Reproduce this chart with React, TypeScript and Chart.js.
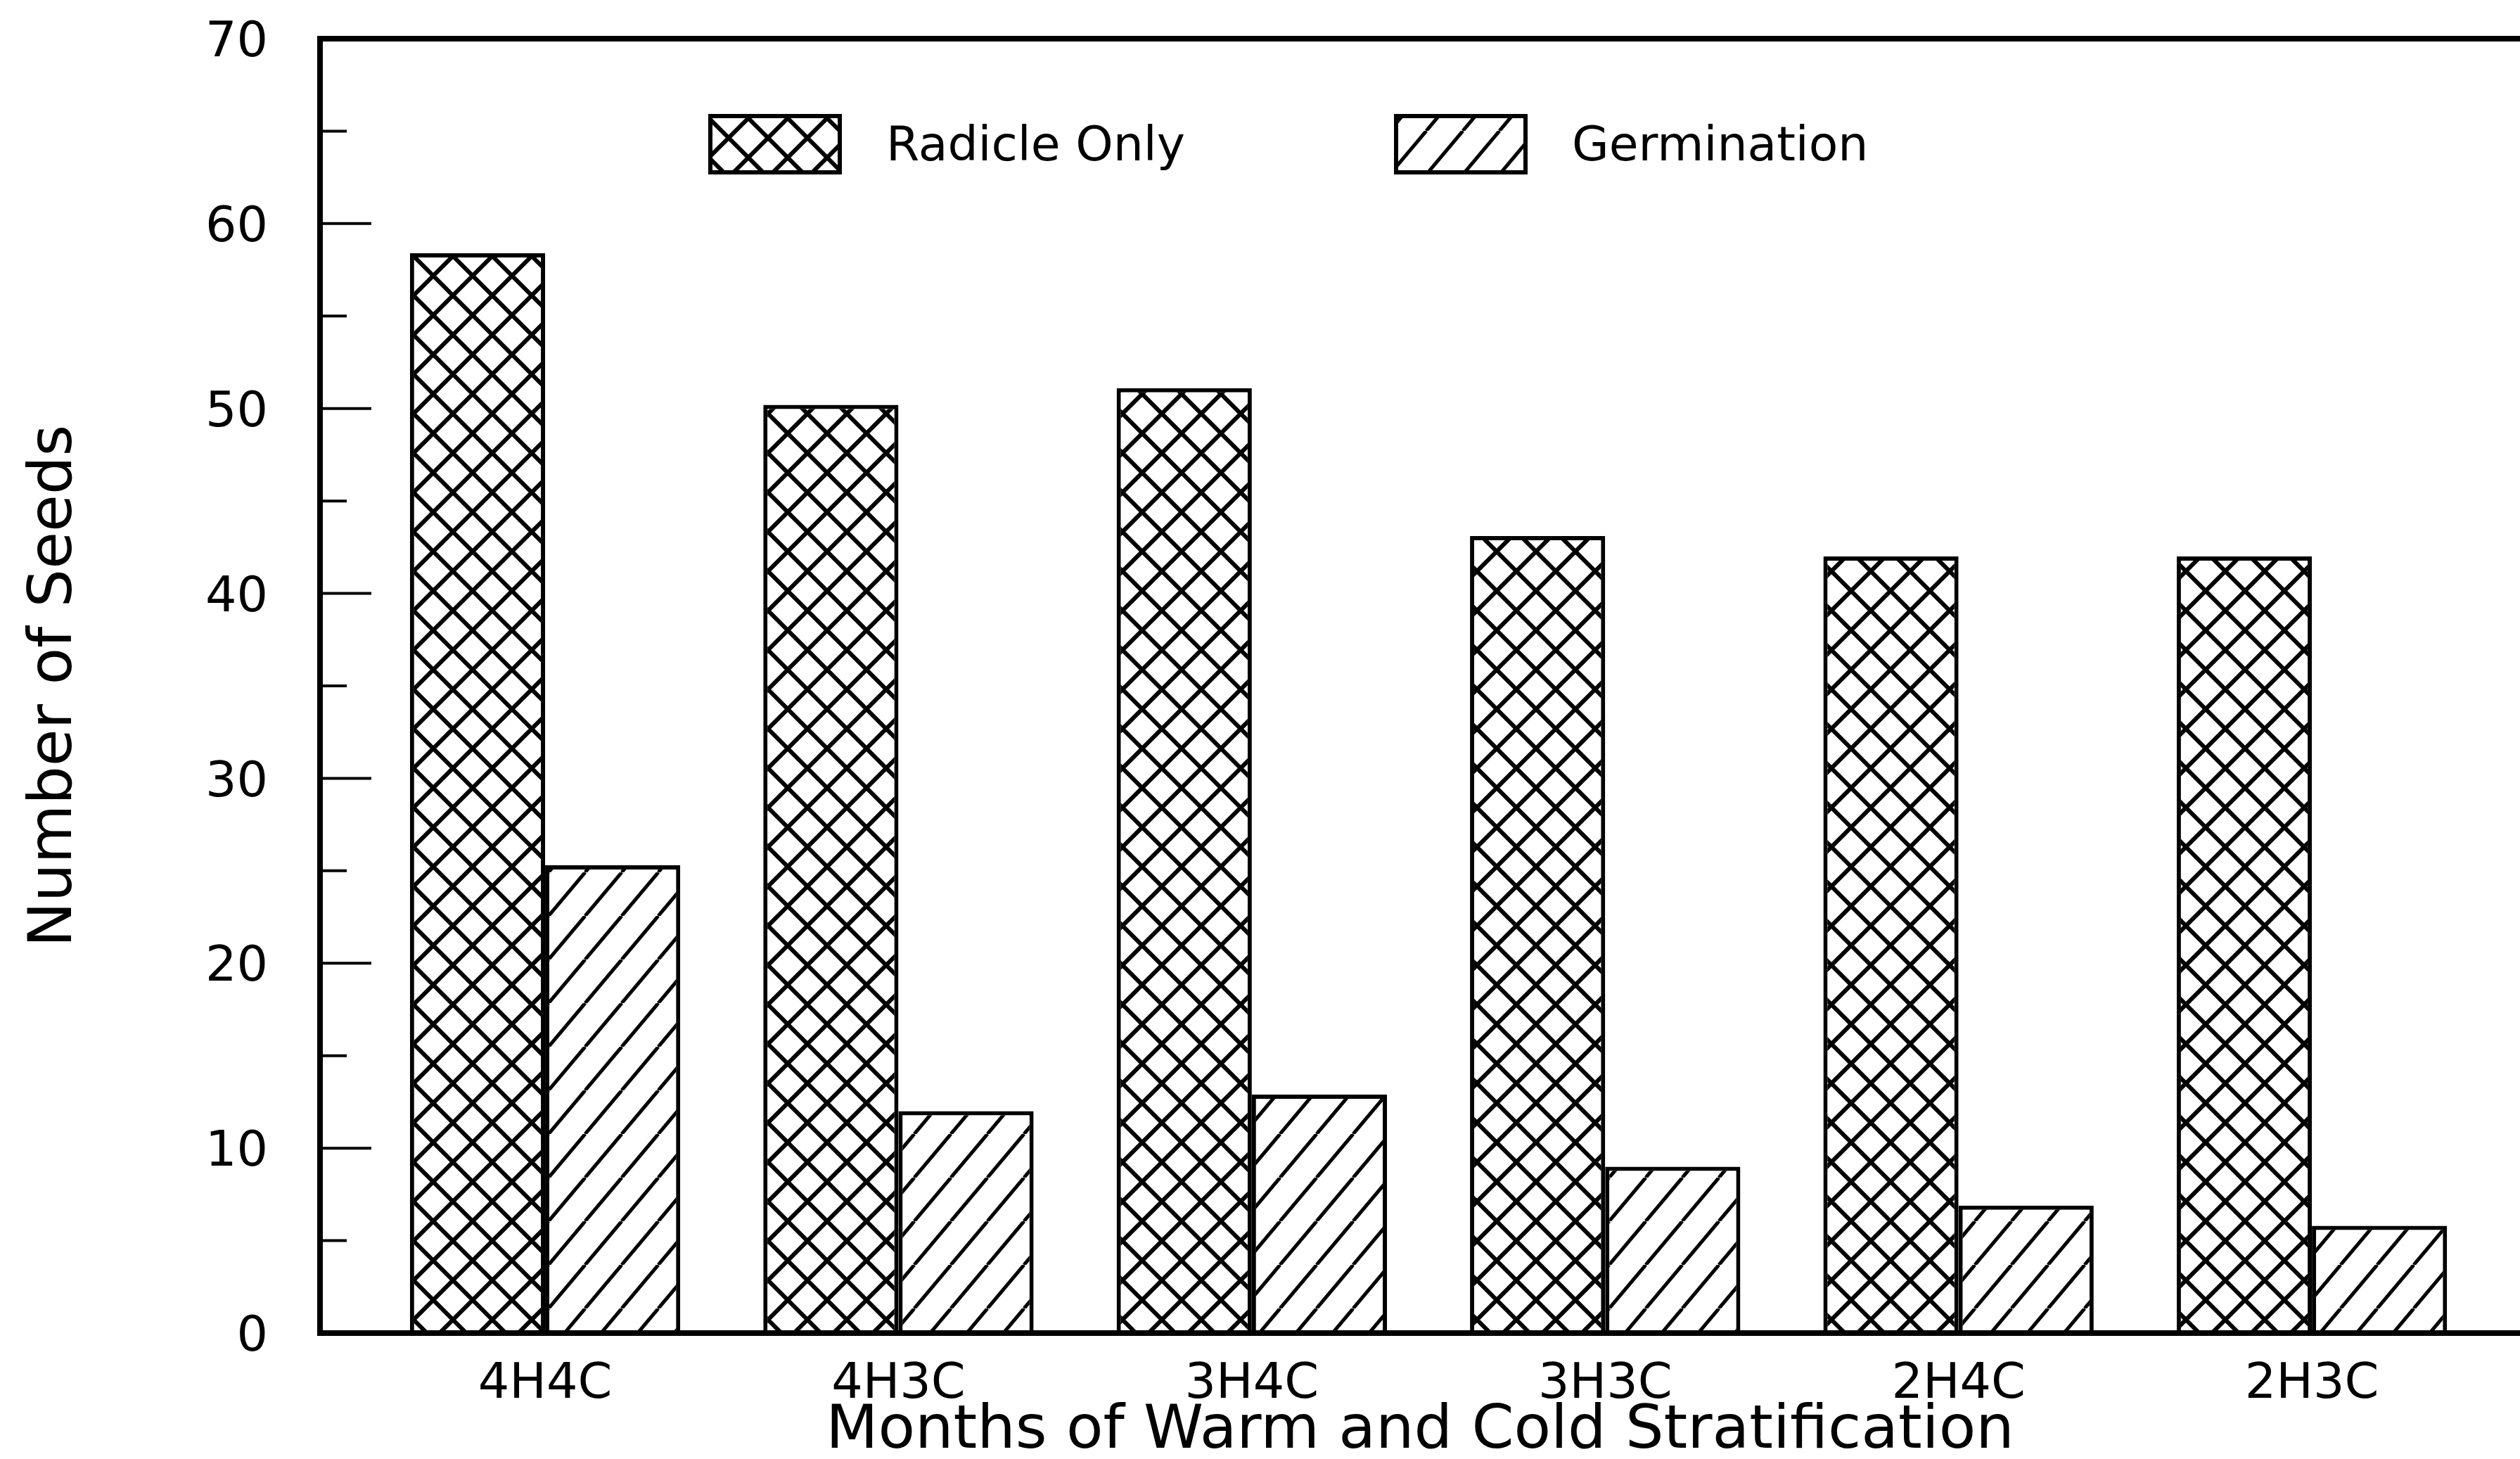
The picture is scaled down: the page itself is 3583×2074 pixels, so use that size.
import React, { useEffect, useRef } from 'react';
import { Chart, registerables } from 'chart.js';

Chart.register(...registerables);

// ---- data ----
const categories = ['4H4C', '4H3C', '3H4C', '3H3C', '2H4C', '2H3C'];
const radicleOnly = [58.4, 50.2, 51.1, 43.1, 42, 42];
const germination = [25.3, 12, 12.9, 9, 6.9, 5.8];
const seriesLabels = ['Radicle Only', 'Germination'];
const yMajorTicks = [0, 10, 20, 30, 40, 50, 60, 70];
const yMinorTicks = [5, 15, 25, 35, 45, 55, 65];
const yTitle = 'Number of Seeds';
const xTitle = 'Months of Warm and Cold Stratification';

// ---- layout / style ----
const W = 3583;
const H = 2074;
const FONT = '"DejaVu Sans", "Liberation Sans", Arial, sans-serif';
const INK = '#000';

function makeCross(ctx: CanvasRenderingContext2D) {
  const P = 56;
  const c = document.createElement('canvas');
  c.width = P;
  c.height = P;
  const g = c.getContext('2d')!;
  g.fillStyle = '#fff';
  g.fillRect(0, 0, P, P);
  g.strokeStyle = INK;
  g.lineWidth = 6;
  g.beginPath();
  for (const o of [-P, 0, P]) {
    g.moveTo(o, 0);
    g.lineTo(o + P, P);
    g.moveTo(o, P);
    g.lineTo(o + P, 0);
  }
  g.stroke();
  return ctx.createPattern(c, 'repeat')!;
}

function makeHatch(ctx: CanvasRenderingContext2D) {
  const Wt = 52;
  const Ht = 62;
  const c = document.createElement('canvas');
  c.width = Wt;
  c.height = Ht;
  const g = c.getContext('2d')!;
  g.fillStyle = '#fff';
  g.fillRect(0, 0, Wt, Ht);
  g.strokeStyle = INK;
  g.lineWidth = 5;
  g.beginPath();
  for (const o of [-Wt, 0, Wt]) {
    g.moveTo(o, Ht);
    g.lineTo(o + Wt, 0);
  }
  g.stroke();
  return ctx.createPattern(c, 'repeat')!;
}

export default function App() {
  const ref = useRef<HTMLCanvasElement>(null);

  useEffect(() => {
    document.body.style.margin = '0';
    const canvas = ref.current!;
    const ctx = canvas.getContext('2d')!;
    const cross = makeCross(ctx);
    const hatch = makeHatch(ctx);
    const fills = [cross, hatch];

    const decor = {
      id: 'decor',
      afterDraw(chart: any) {
        const { ctx: c, chartArea: a, scales } = chart;
        const y = scales.y;
        c.save();
        c.strokeStyle = INK;
        // frame: left, top, bottom
        c.lineWidth = 8;
        c.lineCap = 'square';
        c.beginPath();
        c.moveTo(a.right, a.top);
        c.lineTo(a.left, a.top);
        c.lineTo(a.left, a.bottom);
        c.lineTo(a.right, a.bottom);
        c.stroke();
        // inward ticks
        c.lineCap = 'butt';
        c.lineWidth = 4;
        c.beginPath();
        yMajorTicks.forEach((v) => {
          if (v <= y.min || v >= y.max) return;
          const py = y.getPixelForValue(v);
          c.moveTo(a.left, py);
          c.lineTo(a.left + 73, py);
        });
        yMinorTicks.forEach((v) => {
          const py = y.getPixelForValue(v);
          c.moveTo(a.left, py);
          c.lineTo(a.left + 38, py);
        });
        c.stroke();
        // legend inside plot
        const boxes = [1007, 1982];
        const boxTop = 162;
        const boxW = 190;
        const boxH = 86;
        c.font = `68px ${FONT}`;
        c.textBaseline = 'alphabetic';
        c.textAlign = 'left';
        chart.data.datasets.forEach((ds: any, i: number) => {
          const bx = boxes[i];
          c.fillStyle = fills[i];
          c.fillRect(bx, boxTop, boxW, boxH);
          c.lineWidth = 6;
          c.strokeRect(bx + 3, boxTop + 3, boxW - 6, boxH - 6);
          c.fillStyle = INK;
          c.fillText(ds.label, bx + 253, 228);
        });
        c.restore();
      },
    };

    const chart = new Chart(canvas, {
      type: 'bar',
      data: {
        datasets: [
          {
            label: seriesLabels[0],
            data: categories.map((_, i) => ({ x: i, y: radicleOnly[i] })),
            backgroundColor: cross,
            borderColor: INK,
            borderWidth: 6,
            barPercentage: 1,
            categoryPercentage: 0.765,
          },
          {
            label: seriesLabels[1],
            data: categories.map((_, i) => ({ x: i, y: germination[i] })),
            backgroundColor: hatch,
            borderColor: INK,
            borderWidth: 6,
            barPercentage: 1,
            categoryPercentage: 0.765,
          },
        ] as any,
      },
      options: {
        responsive: false,
        animation: false,
        devicePixelRatio: 1,
        layout: { padding: { top: 55, left: 0, right: 0, bottom: 0 } },
        plugins: {
          legend: { display: false },
          tooltip: { enabled: false },
        },
        scales: {
          x: {
            type: 'linear',
            min: -0.637,
            max: 5.589,
            offset: false,
            grid: { display: false, drawTicks: false },
            border: { display: false },
            afterBuildTicks: (s: any) => {
              s.ticks = categories.map((_, i) => ({ value: i }));
            },
            afterFit: (s: any) => {
              s.height = 179;
              s.paddingLeft = 0;
              s.paddingRight = 0;
            },
            ticks: {
              autoSkip: false,
              maxRotation: 0,
              padding: 32,
              color: INK,
              font: { family: FONT, size: 70 },
              callback: (_v: any, i: number) => categories[i],
            },
            title: {
              display: true,
              text: xTitle,
              color: INK,
              font: { family: FONT, size: 86, lineHeight: 0.9 },
              padding: 0,
            },
          },
          y: {
            type: 'linear',
            min: 0,
            max: 70,
            grid: { display: false, drawTicks: false },
            border: { display: false },
            afterBuildTicks: (s: any) => {
              s.ticks = yMajorTicks.map((v) => ({ value: v }));
            },
            afterFit: (s: any) => {
              s.width = 455;
              s.paddingTop = 0;
              s.paddingBottom = 0;
            },
            ticks: {
              padding: 74,
              color: INK,
              font: { family: FONT, size: 70, lineHeight: 0.2 },
              callback: (v: any) => ['', String(v)],
            },
            title: {
              display: true,
              text: yTitle,
              color: INK,
              font: { family: FONT, size: 86, lineHeight: 1.2 },
              padding: { top: 27, bottom: 0 },
            },
          },
        },
      } as any,
      plugins: [decor],
    });

    return () => chart.destroy();
  }, []);

  return (
    <div style={{ position: 'absolute', left: 0, top: 0, width: W, height: H, background: '#fff' }}>
      <canvas ref={ref} width={W} height={H} style={{ display: 'block', width: W, height: H }} />
    </div>
  );
}
